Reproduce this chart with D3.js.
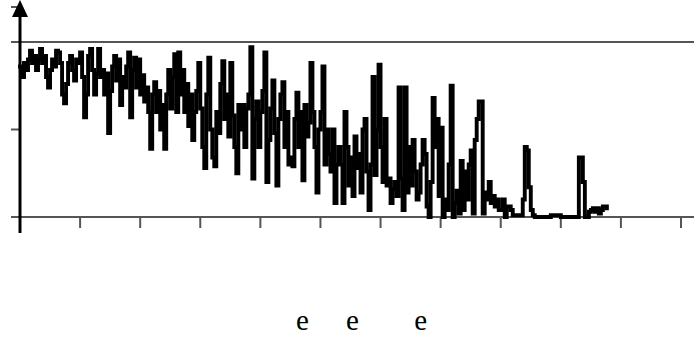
<!DOCTYPE html>
<html>
<head>
<meta charset="utf-8">
<script src="https://cdn.jsdelivr.net/npm/d3@7"></script>
<style>
  html, body { margin: 0; padding: 0; background: #fff; }
  svg { display: block; }
</style>
</head>
<body>
<div id="chart"></div>
<script>
// one sample per x step (0 = baseline, 100 = top line)
const signal = [
  86, 80, 88, 84, 90, 95, 88, 92, 84, 90,
  96, 88, 92, 80, 74, 84, 90, 86, 95, 94,
  88, 70, 65, 76, 88, 92, 84, 78, 90, 88,
  94, 80, 57, 70, 92, 96, 84, 70, 82, 96,
  80, 84, 70, 82, 48, 72, 86, 92, 78, 90,
  64, 80, 74, 86, 94, 57, 84, 91, 74, 90,
  70, 81, 66, 74, 60, 39, 70, 77, 60, 72,
  50, 64, 39, 70, 84, 62, 80, 93, 60, 94,
  70, 84, 60, 76, 52, 70, 44, 60, 72, 88,
  62, 40, 28, 70, 91, 50, 34, 29, 60, 48,
  76, 89, 56, 70, 46, 88, 58, 40, 25, 64,
  50, 64, 40, 62, 70, 97, 22, 56, 66, 40,
  60, 72, 94, 20, 44, 62, 78, 48, 18, 56,
  70, 77, 40, 60, 30, 34, 29, 56, 71, 40,
  60, 21, 64, 46, 54, 88, 60, 40, 14, 50,
  60, 86, 30, 50, 36, 26, 50, 8, 30, 40,
  30, 8, 60, 40, 18, 34, 12, 46, 28, 36,
  14, 50, 56, 26, 4, 30, 80, 24, 50, 87,
  40, 20, 56, 18, 22, 8, 16, 20, 12, 74,
  22, 4, 74, 14, 40, 18, 44, 26, 10, 14,
  30, 44, 36, 6, 0, 20, 68, 40, 56, 12,
  51, 0, 10, 4, 30, 75, 0, 8, 15, 2,
  32, 4, 26, 10, 30, 38, 2, 44, 56, 66,
  66, 2, 14, 10, 20, 8, 12, 6, 10, 4,
  4, 10, 0, 6, 6, 4, 1, 1, 1, 1,
  1, 10, 40, 38, 17, 4, 1, 0, 0, 0,
  0, 0, 0, 0, 0, 1, 1, 1, 1, 1,
  0, 0, 0, 0, 0, 0, 0, 0, 0, 34,
  34, 20, 0, 0, 3, 4, 5, 3, 5, 2,
  4, 6, 6, 5
];
const yTicks = [0, 50, 100, 120];
const xTicks = [0, 30, 60, 90, 120, 150, 180, 210, 240, 270, 300, 330];
const titleLetters = ["e", "e", "e"];
const titleSlots = [141, 166, 200]; // positions along the x axis units

const width = 694, height = 339;
const svg = d3.select("#chart").append("svg")
  .attr("width", width)
  .attr("height", height);

const x = d3.scaleLinear().domain([0, 330]).range([20, 681]);
const y = d3.scaleLinear().domain([0, 120]).range([217, 7]);

const grey = "#555";

// top reference line and baseline
svg.selectAll("line.grid")
  .data([0, 100])
  .enter()
  .append("line")
  .attr("class", "grid")
  .attr("x1", 11)
  .attr("x2", width)
  .attr("y1", d => y(d))
  .attr("y2", d => y(d))
  .attr("stroke", grey)
  .attr("stroke-width", 2);

// y ticks (left of axis)
svg.selectAll("line.ytick")
  .data(yTicks)
  .enter()
  .append("line")
  .attr("class", "ytick")
  .attr("x1", 11)
  .attr("x2", 20)
  .attr("y1", d => y(d))
  .attr("y2", d => y(d))
  .attr("stroke", grey)
  .attr("stroke-width", 2);

// x ticks (below baseline)
svg.selectAll("line.xtick")
  .data(xTicks.slice(1))
  .enter()
  .append("line")
  .attr("class", "xtick")
  .attr("x1", d => x(d))
  .attr("x2", d => x(d))
  .attr("y1", y(0))
  .attr("y2", y(0) + 11)
  .attr("stroke", grey)
  .attr("stroke-width", 2);

// the signal, drawn blocky like the original
const line = d3.line()
  .curve(d3.curveStepAfter)
  .x((d, i) => x(i))
  .y(d => y(d));

svg.append("path")
  .datum(signal)
  .attr("d", line)
  .attr("fill", "none")
  .attr("stroke", "#000")
  .attr("stroke-width", 3.9)
  .attr("stroke-linejoin", "miter")
  .attr("stroke-linecap", "square");

// y axis with arrow
svg.append("line")
  .attr("x1", x(0))
  .attr("x2", x(0))
  .attr("y1", y(0) + 16)
  .attr("y2", 14)
  .attr("stroke", "#000")
  .attr("stroke-width", 3);

svg.append("path")
  .attr("d", `M${x(0)},0 L${x(0) - 8},17 L${x(0) + 8},17 Z`)
  .attr("fill", "#000");

// axis title remnants
svg.selectAll("text.title")
  .data(titleLetters)
  .enter()
  .append("text")
  .attr("class", "title")
  .attr("x", (d, i) => x(titleSlots[i]))
  .attr("y", 330)
  .attr("text-anchor", "middle")
  .attr("font-family", "'Liberation Serif', 'Times New Roman', serif")
  .attr("font-size", 29)
  .attr("fill", "#000")
  .text(d => d);
</script>
</body>
</html>
